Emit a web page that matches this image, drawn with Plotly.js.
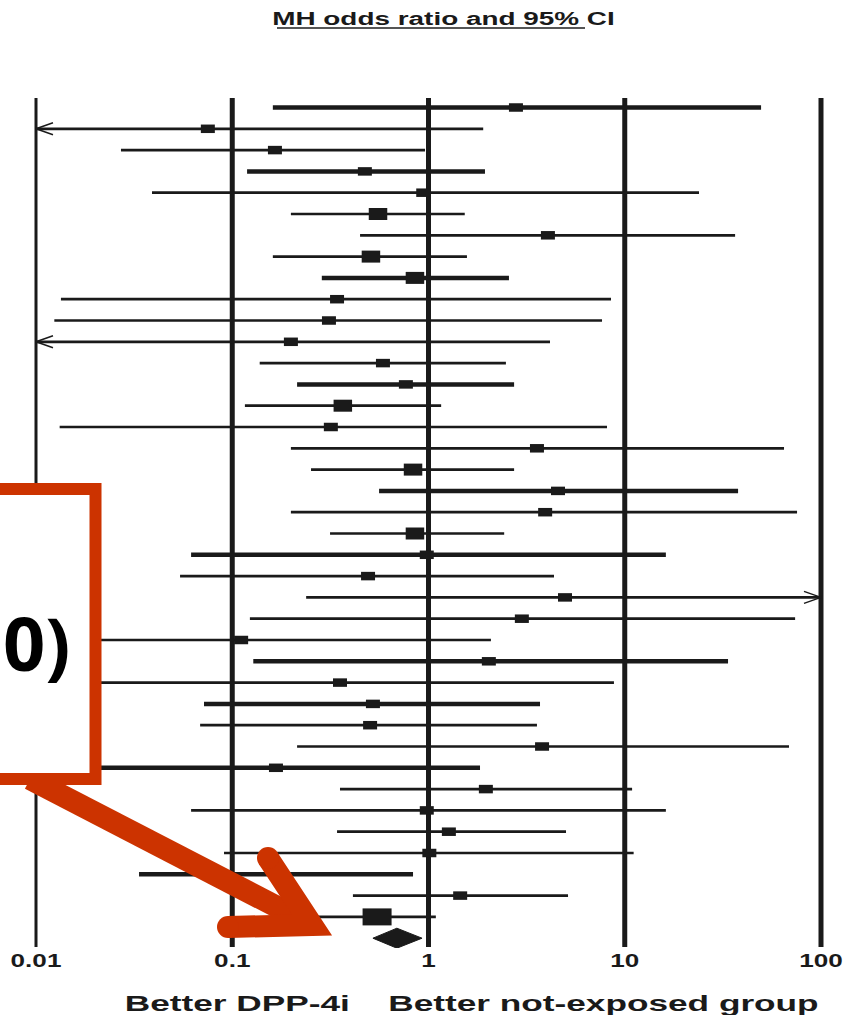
<!DOCTYPE html>
<html><head><meta charset="utf-8">
<script src="https://cdn.plot.ly/plotly-3.0.1.min.js"></script>
<style>html,body{margin:0;padding:0;background:#fff;}#chart{width:852px;height:1015px;}</style>
</head><body><div id="chart"></div>
<script>
// ---------------- DATA ----------------
const studyOR = [2.79,0.0751,0.165,0.474,0.94,0.553,4.06,0.509,0.853,0.342,
                 0.311,0.199,0.586,0.767,0.366,0.318,3.57,0.834,4.57,3.93,
                 0.853,0.98,0.492,4.96,2.99,0.111,2.03,0.354,0.521,0.504,
                 3.79,0.167,1.96,0.98,1.27,1.01,0.17,1.45];
const studyLo = [0.161,0.005,0.0271,0.119,0.039,0.199,0.448,0.161,0.286,0.0134,
                 0.0124,0.005,0.138,0.214,0.116,0.0132,0.199,0.252,0.56,0.199,
                 0.315,0.0617,0.0542,0.238,0.123,0.015,0.128,0.013,0.0718,0.0686,
                 0.214,0.018,0.354,0.0617,0.342,0.0908,0.0335,0.412];
const studyHi = [49.5,1.9,0.96,1.94,23.9,1.53,36.5,1.57,2.57,8.51,
                 7.66,4.16,2.48,2.73,1.16,8.12,64.8,2.73,37.8,75.5,
                 2.43,16.2,4.36,150,73.8,2.08,33.6,8.81,3.7,3.57,
                 68.7,1.83,10.9,16.2,5.02,11.1,0.834,5.14];
const pooledSquare = {or: 0.547, lo: 0.18, hi: 1.09};
const pooledDiamond = {or: 0.69, lo: 0.521, hi: 0.927};
const tickVals = [0.01, 0.1, 1, 10, 100];
const tickText = ['0.01', '0.1', '1', '10', '100'];
const titleText = 'MH odds ratio and 95% CI';
const favourLeft = 'Better DPP-4i';
const favourRight = 'Better not-exposed group';
const calloutText = '0)';

// ---------------- STYLE ----------------
const thickRows = [1,4,9,14,19,22,27,29,32,37];
const bigRows = [6,8,9,15,18,21];
const INK = '#1a1a1a', RED = '#cc3300';
const W = 852, H = 1015, MB = 67, PH = H - MB;
const PXDEC = 196.25;                 // pixels per decade
const XMIN = 0.01, XMAX = 100;
const ROW0 = 107.5, ROWH = 21.3;      // pixel of first row, row spacing
const PX = x => x / W;
const PY = y => 1 - y / PH;
const rowOfPixel = y => 1 + (y - ROW0) / ROWH;

const nStudies = studyOR.length;
const pooledRow = nStudies + 1, diamondRow = nStudies + 2;

function segs(list){ // list of [x0,x1,y]
  const x=[], y=[];
  list.forEach(s=>{ x.push(s[0], s[1], null); y.push(s[2], s[2], null); });
  return {x, y};
}
const base = {type:'scatter', mode:'lines', hoverinfo:'skip', showlegend:false};
const traces = [];

// reference vertical lines
const yTop = rowOfPixel(98), yBot = rowOfPixel(947);
[[tickVals.slice(0,1), 3], [tickVals.slice(1), 5]].forEach(([vals, w])=>{
  const x=[], y=[];
  vals.forEach(v=>{ x.push(v, v, null); y.push(yTop, yBot, null); });
  traces.push({...base, x, y, line:{color:INK, width:w}});
});

// CI lines
const thinL=[], thickL=[], arrows=[];
for(let i=0;i<nStudies;i++){
  const r=i+1;
  const a=Math.max(studyLo[i], XMIN), b=Math.min(studyHi[i], XMAX);
  (thickRows.includes(r)?thickL:thinL).push([a,b,r]);
  if(studyLo[i] < XMIN) arrows.push([XMIN, 1, r]);
  if(studyHi[i] > XMAX) arrows.push([XMAX, -1, r]);
}
thinL.push([pooledSquare.lo, pooledSquare.hi, pooledRow]);
let s = segs(thinL); traces.push({...base, x:s.x, y:s.y, line:{color:INK, width:2.7}});
s = segs(thickL); traces.push({...base, x:s.x, y:s.y, line:{color:INK, width:4.5}});

// arrowheads (open chevrons)
{
  const x=[], y=[]; const dx = 17/PXDEC, dy = 6/ROWH;
  arrows.forEach(([v, dir, r])=>{
    const back = v*Math.pow(10, dir*dx);
    x.push(back, v, back, null); y.push(r-dy, r, r+dy, null);
  });
  traces.push({...base, x, y, line:{color:INK, width:1.5}});
}

// squares as short thick segments (stretched boxes)
function boxes(items, wpx, hpx){
  const d = (wpx/2)/PXDEC;
  const b = segs(items.map(([v,r])=>[v*Math.pow(10,-d), v*Math.pow(10,d), r]));
  traces.push({...base, x:b.x, y:b.y, line:{color:INK, width:hpx}});
}
const normalSq=[], bigSq=[];
studyOR.forEach((v,i)=>{ (bigRows.includes(i+1)?bigSq:normalSq).push([v,i+1]); });
boxes(normalSq, 14, 8.5);
boxes(bigSq, 18.5, 12);
boxes([[pooledSquare.or, pooledRow]], 29, 17);

// diamond
{
  const hh = 10/ROWH, D = pooledDiamond;
  traces.push({...base, x:[D.lo, D.or, D.hi, D.or, D.lo], y:[diamondRow, diamondRow-hh, diamondRow, diamondRow+hh, diamondRow],
    fill:'toself', fillcolor:INK, line:{color:INK, width:1}});
}

// ---------------- OVERLAY (callout box + arrow) ----------------
const V = [312, 925], cap1 = [268, 858], cap2 = [228, 927];
const shaftStart = [30, 779];
const shapes = [
  {type:'line', xref:'paper', yref:'paper', x0:PX(shaftStart[0]), y0:PY(shaftStart[1]), x1:PX(V[0]), y1:PY(V[1]), line:{color:RED, width:22}},
  {type:'path', xref:'paper', yref:'paper', path:`M${PX(cap1[0])},${PY(cap1[1])} L${PX(V[0])},${PY(V[1])} L${PX(cap2[0])},${PY(cap2[1])}`, line:{color:RED, width:22}},
  {type:'circle', xref:'paper', yref:'paper', x0:PX(cap1[0]-11), x1:PX(cap1[0]+11), y0:PY(cap1[1]-11), y1:PY(cap1[1]+11), fillcolor:RED, line:{width:0}},
  {type:'circle', xref:'paper', yref:'paper', x0:PX(cap2[0]-11), x1:PX(cap2[0]+11), y0:PY(cap2[1]-11), y1:PY(cap2[1]+11), fillcolor:RED, line:{width:0}},
  {type:'rect', xref:'paper', yref:'paper', x0:PX(-30), x1:PX(95.5), y0:PY(779), y1:PY(489), fillcolor:'#ffffff', line:{color:RED, width:12}},
  {type:'line', xref:'paper', yref:'paper', x0:PX(277), x1:PX(585), y0:PY(28), y1:PY(28), line:{color:'#555555', width:2}}
];

const BOLD = {family:'"Liberation Sans", Arial, sans-serif', weight:'bold', color:INK};
const annotations = [
  {xref:'paper', yref:'paper', x:PX(1), y:PY(642), xanchor:'left', yanchor:'middle', showarrow:false, text:calloutText,
   font:{family:'"Noto Sans", "Open Sans", sans-serif', weight:'bold', size:74, color:'#000'}},
  {xref:'paper', yref:'paper', x:PX(237.5), y:PY(1003), xanchor:'center', yanchor:'middle', showarrow:false, text:favourLeft, font:{...BOLD, size:22}},
  {xref:'paper', yref:'paper', x:PX(603.5), y:PY(1003), xanchor:'center', yanchor:'middle', showarrow:false, text:favourRight, font:{...BOLD, size:22}}
];

const layout = {
  width:W, height:H, margin:{l:0, r:0, t:0, b:MB}, paper_bgcolor:'#fff', plot_bgcolor:'#fff',
  title:{text:titleText, x:443.5/W, xref:'container', xanchor:'center', y:1-19/H, yref:'container', yanchor:'middle', font:{...BOLD, size:18}},
  xaxis:{type:'log', range:[Math.log10(XMIN)-36/PXDEC, Math.log10(XMAX)+(W-821)/PXDEC], tickmode:'array', tickvals:tickVals, ticktext:tickText,
    showgrid:false, zeroline:false, showline:false, ticks:'', tickfont:{...BOLD, size:18}, fixedrange:true, automargin:false},
  yaxis:{range:[rowOfPixel(PH), rowOfPixel(0)], visible:false, fixedrange:true},
  shapes, annotations, showlegend:false
};

Plotly.newPlot('chart', traces, layout, {staticPlot:true, displayModeBar:false}).then(gd=>{
  const stretch=(el,f)=>{ if(!el) return; const w=el.getComputedTextLength(); el.setAttribute('textLength',(w*f).toFixed(1)); el.setAttribute('lengthAdjust','spacingAndGlyphs'); };
  gd.querySelectorAll('.xtick text').forEach(t=>stretch(t,1.45));
  stretch(gd.querySelector('.gtitle'),1.55);
  gd.querySelectorAll('.annotation-text').forEach(t=>{ if(t.textContent===favourLeft||t.textContent===favourRight) stretch(t,1.6); });
});
</script></body></html>
